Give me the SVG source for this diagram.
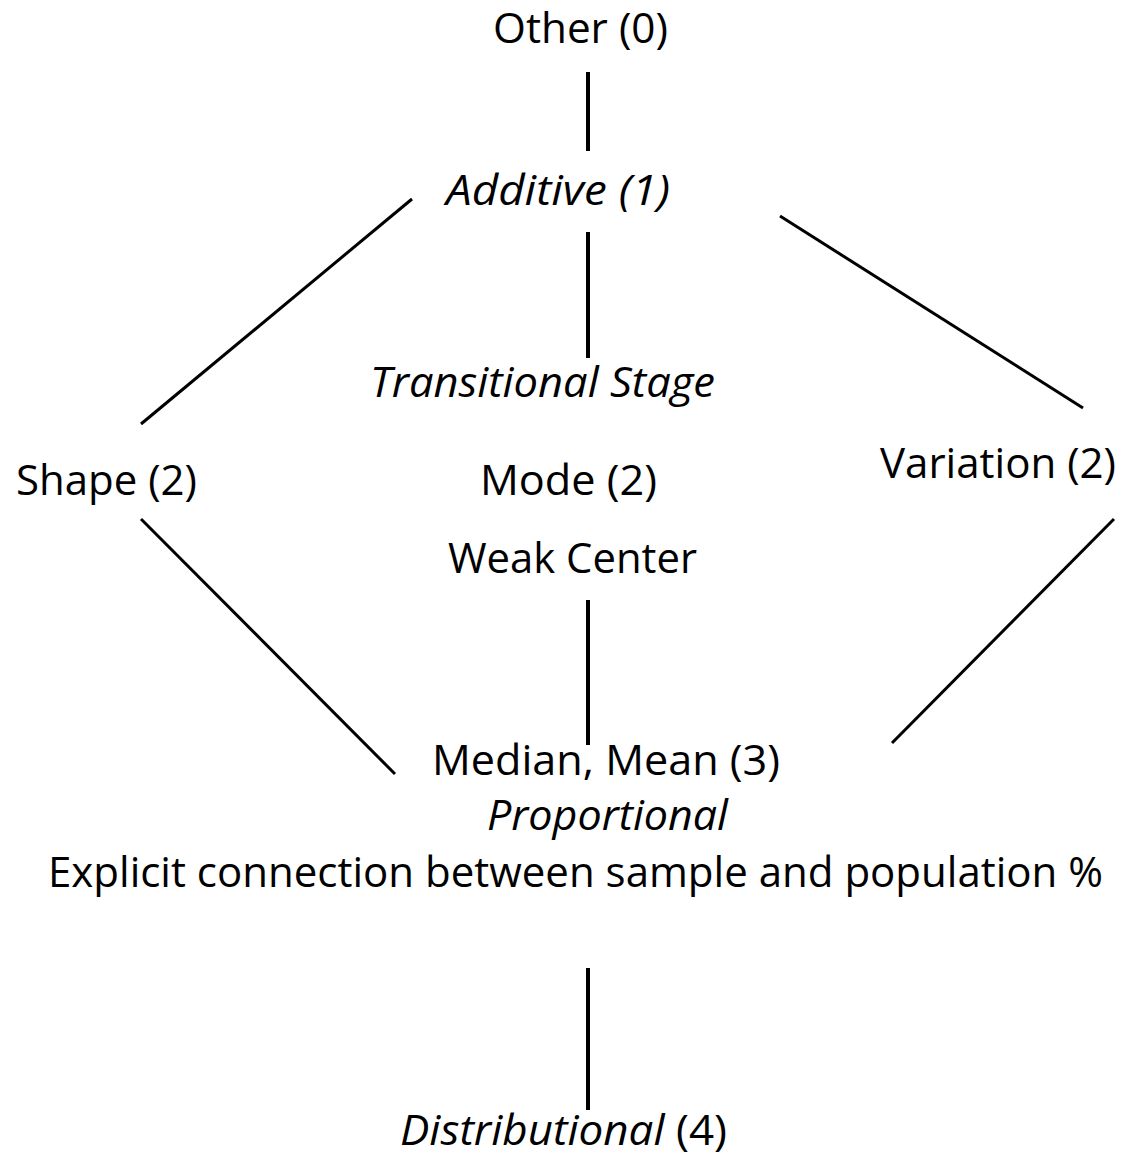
<svg xmlns="http://www.w3.org/2000/svg" width="1122" height="1160" viewBox="0 0 1122 1160">
<style>
text{font-family:"Open Sans","Noto Sans","Liberation Sans",sans-serif;font-size:42px;fill:#000;}
.i{font-style:italic;}
.v{stroke:#000;stroke-width:4;fill:none;}
.d{stroke:#000;stroke-width:3;fill:none;}
</style>
<rect width="1122" height="1160" fill="#fff"/>
<g id="connectors">
<line class="v" x1="588" y1="72" x2="588" y2="151"/>
<line class="v" x1="588" y1="232" x2="588" y2="358"/>
<line class="v" x1="588" y1="600" x2="588" y2="745"/>
<line class="v" x1="588" y1="968" x2="588" y2="1110"/>
<line class="d" x1="412" y1="199" x2="141" y2="424"/>
<line class="d" x1="780" y1="216" x2="1083" y2="408"/>
<line class="d" x1="141" y1="519" x2="395" y2="774"/>
<line class="d" x1="1114" y1="519" x2="892" y2="743"/>
</g>
<g id="other"><text x="493" y="43" textLength="175" lengthAdjust="spacingAndGlyphs">Other (0)</text></g>
<g id="additive"><text class="i" x="446" y="205" textLength="224" lengthAdjust="spacingAndGlyphs">Additive (1)</text></g>
<g id="transitional"><text class="i" x="370" y="397" textLength="345" lengthAdjust="spacingAndGlyphs">Transitional Stage</text></g>
<g id="shape"><text x="16" y="495" textLength="181" lengthAdjust="spacingAndGlyphs">Shape (2)</text></g>
<g id="mode"><text x="480" y="495" textLength="177" lengthAdjust="spacingAndGlyphs">Mode (2)</text>
<text x="448" y="573" textLength="249" lengthAdjust="spacingAndGlyphs">Weak Center</text></g>
<g id="variation"><text x="880" y="478" textLength="236" lengthAdjust="spacingAndGlyphs">Variation (2)</text></g>
<g id="median"><text x="432" y="775" textLength="348" lengthAdjust="spacingAndGlyphs">Median, Mean (3)</text>
<text class="i" x="487" y="830" textLength="241" lengthAdjust="spacingAndGlyphs">Proportional</text>
<text x="48" y="887" textLength="1055" lengthAdjust="spacingAndGlyphs">Explicit connection between sample and population %</text></g>
<g id="distributional"><text x="400" y="1145" textLength="327" lengthAdjust="spacingAndGlyphs"><tspan class="i">Distributional</tspan> (4)</text></g>
</svg>
